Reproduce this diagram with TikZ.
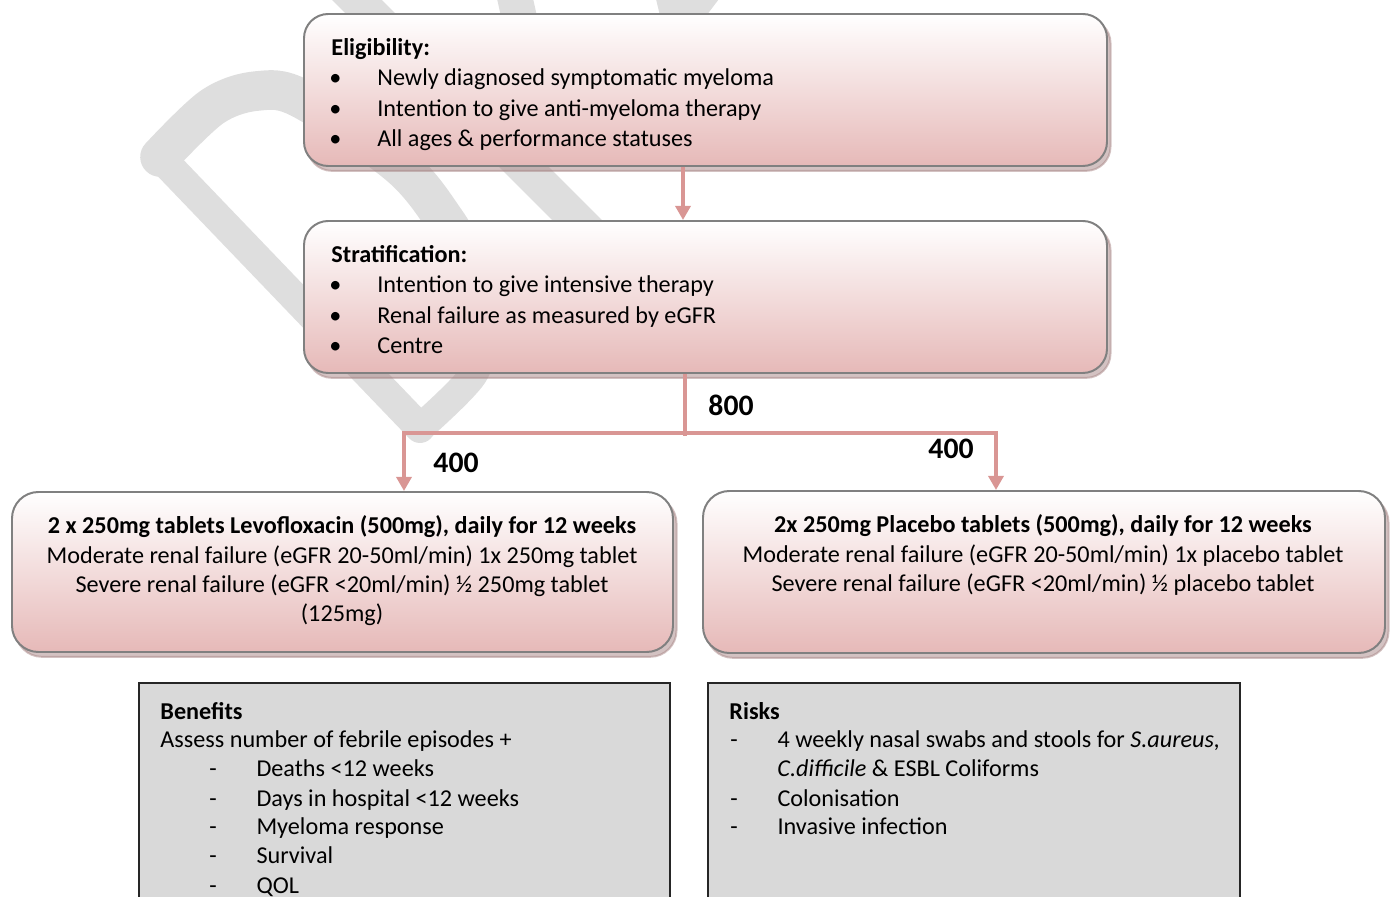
\documentclass[tikz,border=0pt]{standalone}
\usepackage{fontspec}
\setmainfont{Carlito}
\usetikzlibrary{arrows.meta,shadows,fit,calc}
\definecolor{pinkc}{RGB}{230,185,184}
\definecolor{edgec}{RGB}{128,128,128}
\definecolor{shadc}{RGB}{168,134,134}
\definecolor{arrc}{RGB}{217,150,148}
\definecolor{wmc}{RGB}{222,222,222}
\definecolor{greyfill}{RGB}{217,217,217}
\begin{document}
\begin{tikzpicture}[x=0.4545pt,y=-0.4545pt,
  rbox/.style={draw=edgec, line width=0.9pt, rounded corners=11pt, inner sep=0pt,
    top color=white, bottom color=pinkc,
    drop shadow={shadow xshift=1.6pt, shadow yshift=-2.2pt, fill=shadc, draw=shadc}},
  rbox2/.style={rbox, rounded corners=12pt},
  gbox/.style={draw=black!85, line width=0.9pt, fill=greyfill, inner sep=0pt},
  txt/.style={anchor=base west, inner sep=0pt, font=\fontsize{11pt}{13pt}\selectfont},
  ctxt/.style={anchor=base, inner sep=0pt, font=\fontsize{11pt}{13pt}\selectfont},
  num/.style={anchor=base west, inner sep=0pt, font=\fontsize{13.5pt}{16pt}\selectfont\bfseries},
  conn/.style={draw=arrc, line width=1.8pt},
  arr/.style={conn, -{Triangle[width=6.8pt,length=6.4pt]}},
  wm/.style={draw=wmc, line cap=round, line join=round}
]
\useasboundingbox (0,0) rectangle (1391,897);
% watermark
\draw[wm, line width=13.6pt] (160,157) -- (420,428);
\draw[wm, line width=18pt] plot[smooth, tension=0.55] coordinates {(160,157) (212,107) (257,91) (302,99) (400,166) (446,222) (472,268)};
\draw[wm, line width=13pt] plot[smooth, tension=0.55] coordinates {(460,245) (482,300) (484,330) (473,375) (420,428)};
\draw[wm, line width=16pt, line cap=butt] (330,-27) -- (600,243);
\draw[wm, line width=16pt, line cap=butt] (512,-15) -- (522,30);
\fill[wmc] (655,-5) -- (722,-5) -- (700,24) -- (662,24) -- cycle;
% boxes
\node[rbox, fit={(304,14) (1107,166)}] (elig) {};
\node[rbox, fit={(304,221) (1107,373)}] (strat) {};
\node[rbox2, fit={(12,492) (673,652)}] (levo) {};
\node[rbox2, fit={(703,491) (1385,653)}] (plac) {};
\node[gbox, fit={(139,683) (670,930)}] (ben) {};
\node[gbox, fit={(708,683) (1240,930)}] (risk) {};
% connectors
\coordinate (ax) at (683,0);
\draw[arr] (ax |- elig.south) -- (ax |- strat.north);
\coordinate (split) at (685,433);
\draw[conn] (split |- strat.south) -- ($(split)+(0,3)$);
\coordinate (lx) at (404,0);
\coordinate (rx) at (996,0);
\draw[arr] (split) -| (lx |- levo.north);
\draw[arr] (split) -| (rx |- plac.north);
\node[num] (n800) at (708,416) {800};
\node[num] (n400l) at (433,473) {400};
\node[num] (n400r) at (928,459) {400};
% eligibility text
\node[txt, font=\fontsize{11pt}{13pt}\selectfont\bfseries] (e0) at (331,55.5) {Eligibility:};
\node[txt] (e1) at (329,86) {\makebox[21.8pt][l]{•}Newly diagnosed symptomatic myeloma};
\node[txt] (e2) at (329,116.5) {\makebox[21.8pt][l]{•}Intention to give anti-myeloma therapy};
\node[txt] (e3) at (329,147) {\makebox[21.8pt][l]{•}All ages \& performance statuses};
% stratification text
\node[txt, font=\fontsize{11pt}{13pt}\selectfont\bfseries] (s0) at (331,262.5) {Stratification:};
\node[txt] (s1) at (329,293) {\makebox[21.8pt][l]{•}Intention to give intensive therapy};
\node[txt] (s2) at (329,323.5) {\makebox[21.8pt][l]{•}Renal failure as measured by eGFR};
\node[txt] (s3) at (329,354) {\makebox[21.8pt][l]{•}Centre};
% levofloxacin text
\node[ctxt, font=\fontsize{11pt}{13pt}\selectfont\bfseries] (l0) at (342,534) {2 x 250mg tablets Levofloxacin (500mg), daily for 12 weeks};
\node[ctxt] (l1) at (342,564) {Moderate renal failure (eGFR 20-50ml/min) 1x 250mg tablet};
\node[ctxt] (l2) at (342,593) {Severe renal failure (eGFR <20ml/min) ½ 250mg tablet};
\node[ctxt] (l3) at (342,622) {(125mg)};
% placebo text
\node[ctxt, font=\fontsize{11pt}{13pt}\selectfont\bfseries] (p0) at (1043,533) {2x 250mg Placebo tablets (500mg), daily for 12 weeks};
\node[ctxt] (p1) at (1043,563) {Moderate renal failure (eGFR 20-50ml/min) 1x placebo tablet};
\node[ctxt] (p2) at (1043,592) {Severe renal failure (eGFR <20ml/min) ½ placebo tablet};
% benefits text
\node[txt, font=\fontsize{11pt}{13pt}\selectfont\bfseries] (b0) at (160,719) {Benefits};
\node[txt] (b1) at (160,748) {Assess number of febrile episodes +};
\node[txt] (b2) at (209,777) {\makebox[21.4pt][l]{-}Deaths <12 weeks};
\node[txt] (b3) at (209,806) {\makebox[21.4pt][l]{-}Days in hospital <12 weeks};
\node[txt] (b4) at (209,835) {\makebox[21.4pt][l]{-}Myeloma response};
\node[txt] (b5) at (209,864) {\makebox[21.4pt][l]{-}Survival};
\node[txt] (b6) at (209,893) {\makebox[21.4pt][l]{-}QOL};
% risks text
\node[txt, font=\fontsize{11pt}{13pt}\selectfont\bfseries] (r0) at (729,719) {Risks};
\node[txt] (r1) at (730,748) {\makebox[21.4pt][l]{-}4 weekly nasal swabs and stools for \textit{S.aureus,}};
\node[txt] (r2) at (777,777) {\textit{C.difficile} \& ESBL Coliforms};
\node[txt] (r3) at (730,806) {\makebox[21.4pt][l]{-}Colonisation};
\node[txt] (r4) at (730,835) {\makebox[21.4pt][l]{-}Invasive infection};
\end{tikzpicture}
\end{document}
